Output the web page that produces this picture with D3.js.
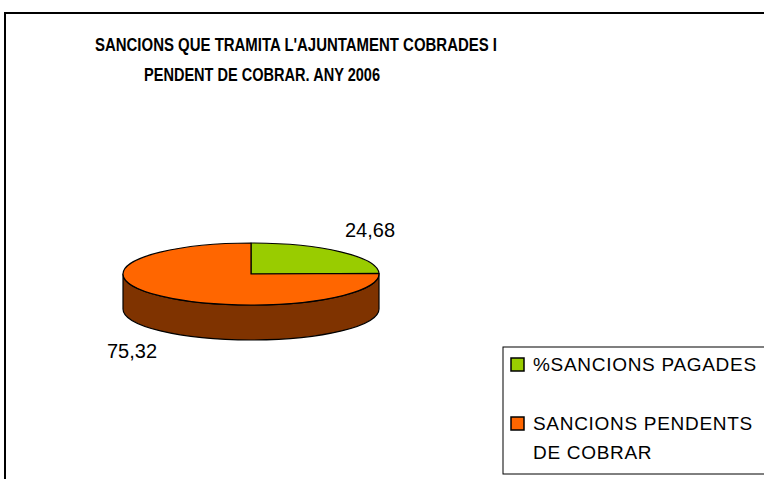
<!DOCTYPE html>
<html>
<head>
<meta charset="utf-8">
<script src="https://cdn.jsdelivr.net/npm/d3@7"></script>
<style>
  body { margin: 0; background: #ffffff; }
  svg text { font-family: "Liberation Sans", Arial, sans-serif; fill: #000000; }
</style>
</head>
<body>
<div id="chart"></div>
<script>
// data
var categories = ["%SANCIONS PAGADES", "SANCIONS PENDENTS DE COBRAR"];
var values = [24.68, 75.32];
var valueLabels = ["24,68", "75,32"];
var legendLines = [["%SANCIONS PAGADES"], ["SANCIONS PENDENTS", "DE COBRAR"]];
var titleLines = ["SANCIONS QUE TRAMITA L'AJUNTAMENT COBRADES I", "PENDENT DE COBRAR. ANY 2006"];

var width = 764, height = 479;
var topColors = ["#99cc00", "#ff6600"];
var sideColors = ["#4c6600", "#7f3300"];

var svg = d3.select("#chart").append("svg")
    .attr("width", width)
    .attr("height", height);

// outer frame, runs off the right and bottom edge
svg.append("rect")
    .attr("x", 5)
    .attr("y", 13)
    .attr("width", 820)
    .attr("height", 520)
    .attr("fill", "#ffffff")
    .attr("stroke", "#000000")
    .attr("stroke-width", 2);

// title, the original font is a narrow one so squeeze it to the same width
var titleX = [296, 262], titleW = [402, 236];
svg.selectAll(".title")
    .data(titleLines)
    .enter()
    .append("text")
    .attr("class", "title")
    .attr("x", (d, i) => titleX[i])
    .attr("y", (d, i) => 51 + i * 30)
    .attr("text-anchor", "middle")
    .attr("font-size", 19)
    .attr("font-weight", "bold")
    .attr("textLength", (d, i) => titleW[i])
    .attr("lengthAdjust", "spacingAndGlyphs")
    .text(d => d);

// 3d pie geometry
var cx = 251, cy = 274, rx = 128, ry = 31, depth = 35;

var pie = d3.pie().sort(null)(values);

// point on the top ellipse for a pie angle (clockwise from 12 o'clock)
function pt(a, dy) {
    return [cx + rx * Math.sin(a), cy - ry * Math.cos(a) + (dy || 0)];
}

// side wall: only the front half (angles PI/2..3PI/2) is visible
function sidePath(d) {
    var a0 = Math.max(d.startAngle, Math.PI / 2);
    var a1 = Math.min(d.endAngle, 3 * Math.PI / 2);
    if (a1 <= a0) return null;
    var p0 = pt(a0), p1 = pt(a1), q1 = pt(a1, depth), q0 = pt(a0, depth);
    var large = (a1 - a0) > Math.PI ? 1 : 0;
    return "M" + p0 + "A" + rx + "," + ry + " 0 " + large + " 1 " + p1 +
        "L" + q1 + "A" + rx + "," + ry + " 0 " + large + " 0 " + q0 + "Z";
}

function topPath(d) {
    var p0 = pt(d.startAngle), p1 = pt(d.endAngle);
    var large = (d.endAngle - d.startAngle) > Math.PI ? 1 : 0;
    return "M" + cx + "," + cy + "L" + p0 + "A" + rx + "," + ry + " 0 " + large + " 1 " + p1 + "Z";
}

svg.selectAll(".side")
    .data(pie.filter(d => sidePath(d) != null))
    .enter()
    .append("path")
    .attr("class", "side")
    .attr("d", sidePath)
    .attr("fill", d => sideColors[d.index])
    .attr("stroke", "#000000")
    .attr("stroke-width", 1.2)
    .attr("stroke-linejoin", "round");

svg.selectAll(".top")
    .data(pie)
    .enter()
    .append("path")
    .attr("class", "top")
    .attr("d", topPath)
    .attr("fill", d => topColors[d.index])
    .attr("stroke", "#000000")
    .attr("stroke-width", 1.2)
    .attr("stroke-linejoin", "round");

// value labels outside the pie
svg.selectAll(".vlabel")
    .data(pie)
    .enter()
    .append("text")
    .attr("class", "vlabel")
    .attr("x", d => cx + 170 * Math.sin((d.startAngle + d.endAngle) / 2))
    .attr("y", d => {
        var c = Math.cos((d.startAngle + d.endAngle) / 2);
        return cy - 60 * c + (c < 0 ? depth : 0) + 6;
    })
    .attr("text-anchor", "middle")
    .attr("font-size", 20)
    .text(d => valueLabels[d.index]);

// legend
var legend = svg.append("g");

legend.append("rect")
    .attr("x", 503)
    .attr("y", 347)
    .attr("width", 300)
    .attr("height", 127)
    .attr("fill", "#ffffff")
    .attr("stroke", "#000000")
    .attr("stroke-width", 1);

var item = legend.selectAll(".item")
    .data(categories)
    .enter()
    .append("g")
    .attr("class", "item")
    .attr("transform", (d, i) => "translate(511," + (358 + i * 59) + ")");

item.append("rect")
    .attr("width", 13)
    .attr("height", 13)
    .attr("fill", (d, i) => topColors[i])
    .attr("stroke", "#000000")
    .attr("stroke-width", 1.5);

item.selectAll("text")
    .data((d, i) => legendLines[i])
    .enter()
    .append("text")
    .attr("x", 22)
    .attr("y", (d, j) => 13 + j * 29)
    .attr("font-size", 19)
    .attr("letter-spacing", 0.7)
    .text(d => d);
</script>
</body>
</html>
